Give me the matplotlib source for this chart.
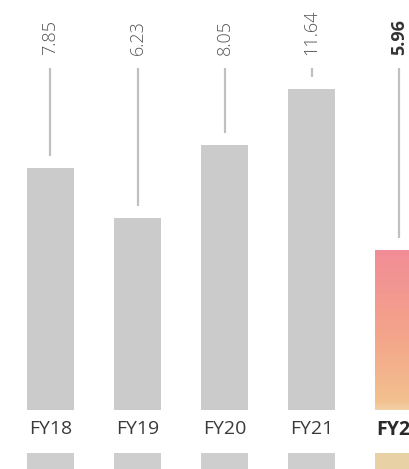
import matplotlib
matplotlib.use("Agg")
import matplotlib.pyplot as plt
from matplotlib.colors import LinearSegmentedColormap
import numpy as np

# ── Data ──────────────────────────────────────────────────────────────────────
years = ["FY18", "FY19", "FY20", "FY21", "FY22"]
labels = ["7.85", "6.23", "8.05", "11.64", "5.96"]
bar_height = [242, 192, 265, 321, 160]   # bar heights as drawn (relative)

# ── Styles ────────────────────────────────────────────────────────────────────
GREY = "#cbcbcb"
STEM = "#c0c0c0"
FONT = ["Open Sans", "DejaVu Sans"]

fig = plt.figure(figsize=(4.10, 4.69), dpi=100)
ax = fig.add_axes([0, 59 / 469, 1, 410 / 469])
ax.set_xlim(-0.58, 4.13)
ax.set_ylim(0, 410)
for s in ax.spines.values():
    s.set_visible(False)
ax.set_yticks([])

x = np.arange(len(years))
W = 0.54
bars = ax.bar(x, bar_height, width=W, color=GREY, zorder=2)

# highlighted current year: pink-to-peach gradient
last = bars[-1]
last.set_facecolor("none")
cmap = LinearSegmentedColormap.from_list(
    "hl", [(0.0, "#f3d0a6"), (0.06, "#f2c08e"), (0.45, "#f4a58a"),
           (1.0, "#f28c97")])
grad = np.linspace(0, 1, 256).reshape(-1, 1)
im = ax.imshow(grad, cmap=cmap, aspect="auto", origin="lower",
               extent=[x[-1] - W / 2, x[-1] + W / 2, 0, bar_height[-1]],
               zorder=2)
im.set_clip_path(last)
ax.set_xlim(-0.58, 4.13)
ax.set_ylim(0, 410)

# stems and rotated value labels
top_y = 342
for i, (h, lab) in enumerate(zip(bar_height, labels)):
    ax.plot([x[i], x[i]], [h + 12, top_y], color=STEM, lw=1.6,
            solid_capstyle="butt", zorder=1)
    hl = i == len(labels) - 1
    ax.text(x[i], 355, lab, rotation=90, ha="center", va="bottom",
            fontsize=13, family=FONT,
            fontweight="bold" if hl else "light",
            color="#333333" if hl else "#555555")

ax.set_xticks(x)
ax.set_xticklabels(years, family=FONT, fontsize=14, color="#3a3a3a")
ax.tick_params(axis="x", length=0, pad=7)
ax.get_xticklabels()[-1].set_fontweight("bold")
ax.get_xticklabels()[-1].set_color("#2a2a2a")

# tops of the next row of bars, cut by the frame
ax2 = fig.add_axes([0, 0, 1, 16 / 469])
ax2.set_xlim(-0.58, 4.13)
ax2.set_ylim(0, 1)
ax2.axis("off")
ax2.bar(x, [1] * len(years), width=W,
        color=["#cecece"] * (len(years) - 1) + ["#e8d1a4"])

fig.savefig("out.png", dpi=100)
